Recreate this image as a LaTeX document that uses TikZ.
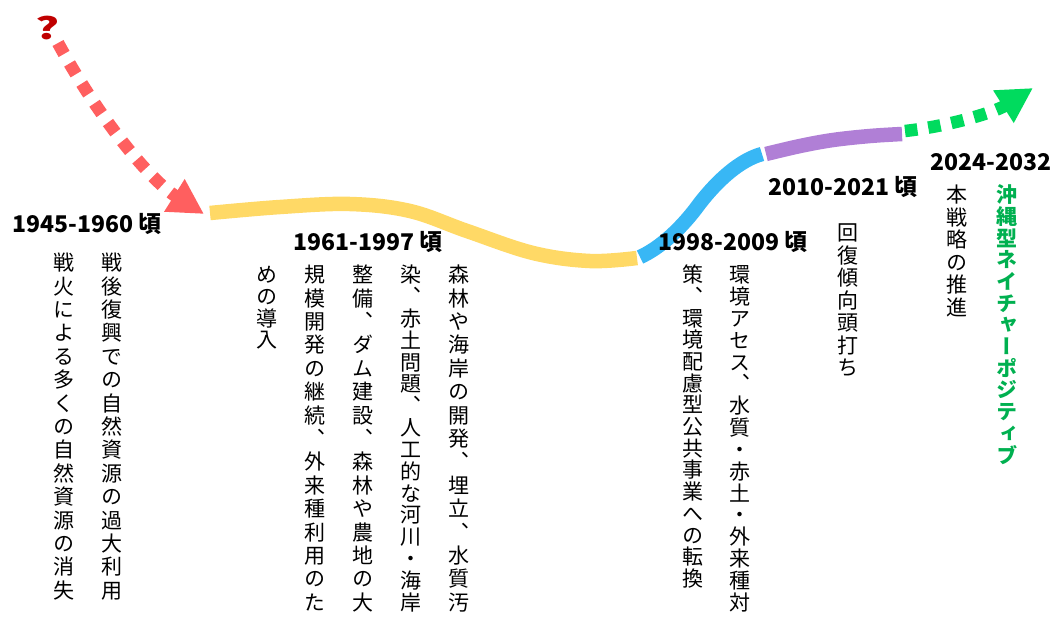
\documentclass[tikz,border=0pt]{standalone}
\usepackage{fontspec}
\usetikzlibrary{arrows.meta}
\newfontfamily\jp{Noto Sans CJK JP}
\newfontfamily\vjp[RawFeature=+vert]{Noto Sans CJK JP}
\definecolor{cyel}{HTML}{FFD966}
\definecolor{cblue}{HTML}{38B7F5}
\definecolor{cpurp}{HTML}{B07FD6}
\definecolor{cred}{HTML}{FF5F5F}
\definecolor{cgreen}{HTML}{00DB5E}
\definecolor{tgreen}{HTML}{00B050}
\definecolor{qred}{HTML}{C00000}
\ExplSyntaxOn
\cs_new:Npn \vtcell #1 {\hbox_to_wd:nn {1em} {\hss \vrule~height~.88em~depth~.12em~width~0pt\relax #1 \hss}}
\NewDocumentCommand \vtn { O{0.7pt} m } {\vbox{\offinterlineskip \tl_map_inline:nn {#2} {\vtcell{##1}\kern#1\relax} \unkern}}
\NewDocumentCommand \vtj { m m } {\vbox~to~#1{\offinterlineskip \tl_map_inline:nn {#2} {\vtcell{##1}\vfil} \unskip}}
\ExplSyntaxOff
\tikzset{
  yr/.style={anchor=base west, inner sep=0pt, font=\jp\bfseries\fontsize{23}{23}\selectfont},
  vcol/.style={anchor=north, inner sep=0pt, font=\vjp\fontsize{21}{21}\selectfont},
  seg/.style={line width=14.5pt, line cap=butt},
  dotarrow/.style={line width=12.5pt, line cap=butt, dash pattern=on 12.5pt off 11pt,
    -{Triangle[length=35pt,width=36pt]}},
}
\begin{document}
\begin{tikzpicture}[x=1pt,y=-1pt]
\useasboundingbox (0,0) rectangle (1051,619);
% question mark and red arrow
\node[inner sep=0pt, text=qred, font=\jp\bfseries\fontsize{30}{30}\selectfont] (q) at (48,28) {\scalebox{1.5}[1]{?}};
\coordinate (r0) at (58,43);
\coordinate (r1) at (204,214);
\draw[dotarrow, cred] (r0) .. controls (100,120) and (150,180) .. (r1);
% timeline segments
\coordinate (y0) at (210,213);
\coordinate (y1) at (637,258);
\coordinate (b0) at (640,257);
\coordinate (bm) at (700,203);
\coordinate (b1) at (762,154);
\coordinate (p0) at (766,154);
\coordinate (p1) at (902,134);
\draw[seg, cyel] plot[smooth, tension=0.6] coordinates {(y0) (280,207) (350,204) (410,211) (467,231) (533,253) (590,261) (y1)};
\draw[seg, cblue] (b0) .. controls (660,248) and (682,228) .. (bm) .. controls (718,180) and (740,160) .. (b1);
\draw[seg, cpurp] plot[smooth, tension=0.6] coordinates {(p0) (800,146) (833,140) (870,136) (p1)};
\coordinate (g0) at (905,131);
\coordinate (g1) at (1033,88);
\draw[dotarrow, cgreen] (g0) .. controls (950,126) and (995,112) .. (g1);
% year labels
\node[yr] (t1) at (12,232) {1945-1960 頃};
\node[yr] (t2) at (293,250) {1961-1997 頃};
\node[yr] (t3) at (658,250) {1998-2009 頃};
\node[yr] (t4) at (768,195) {2010-2021 頃};
\node[yr] (t5) at (930,170) {2024-2032};
% 1945-1960
\node[vcol] (a1) at (112,252) {\vtj{346pt}{戦後復興での自然資源の過大利用}};
\node[vcol] (a2) at (64,252) {\vtj{346pt}{戦火による多くの自然資源の消失}};
% 1961-1997
\node[vcol] (c1) at (459,264) {\vtj{346pt}{森林や海岸の開発、埋立、水質汚}};
\node[vcol] (c2) at (411,264) {\vtj{346pt}{染、赤土問題、人工的な河川・海岸}};
\node[vcol] (c3) at (363,264) {\vtj{346pt}{整備、ダム建設、森林や農地の大}};
\node[vcol] (c4) at (315,264) {\vtj{346pt}{規模開発の継続、外来種利用のた}};
\node[vcol] (c5) at (267,264) {\vtn{めの導入}};
% 1998-2009
\node[vcol] (d1) at (740,264) {\vtj{346pt}{環境アセス、水質・赤土・外来種対}};
\node[vcol] (d2) at (693,264) {\vtn{策、環境配慮型公共事業への転換}};
% 2010-2021
\node[vcol] (e1) at (848,222) {\vtn[1.5pt]{回復傾向頭打ち}};
% 2024-2032
\node[vcol] (f1) at (957,184) {\vtn[1.5pt]{本戦略の推進}};
\node[vcol, text=tgreen, font=\vjp\bfseries\fontsize{21}{21}\selectfont] (f2) at (1007,184) {\vtn{沖縄型ネイチャーポジティブ}};
\end{tikzpicture}
\end{document}
